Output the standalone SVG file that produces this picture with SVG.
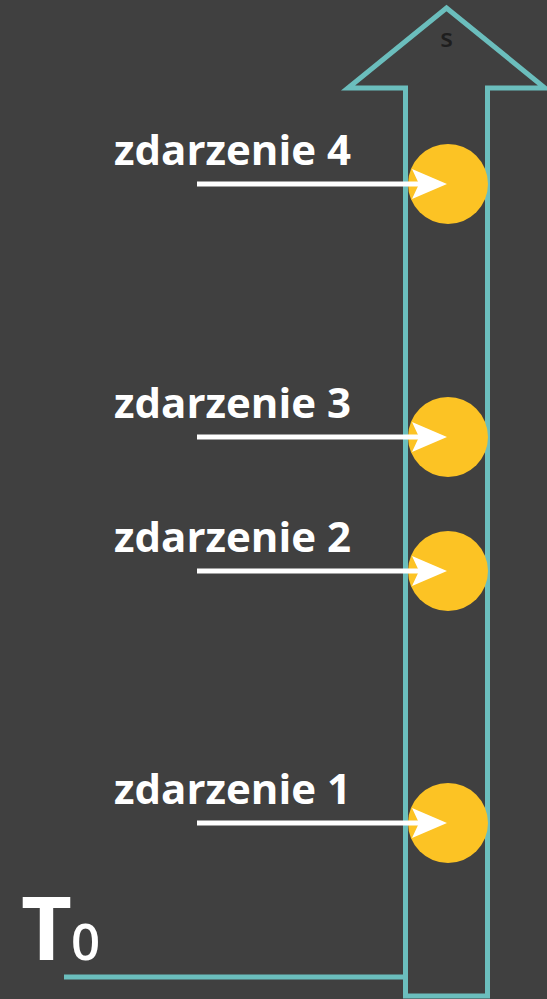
<svg xmlns="http://www.w3.org/2000/svg" width="547" height="999" viewBox="0 0 547 999">
<defs>
<style>
.lbl{font-family:"Open Sans","Liberation Sans",sans-serif;font-weight:bold;font-size:42px;fill:#ffffff}
.ev{fill:#FCC324}
.pt{stroke:#ffffff;stroke-width:5;fill:none}
.ah{fill:#ffffff}
.teal{stroke:#6BBEBD;stroke-width:5;fill:none}
</style>
</defs>
<rect width="547" height="999" fill="#404040"/>
<g id="timeline">
<path class="teal" d="M405.5,996 L405.5,88 L348,88 L446.5,8 L545,88 L487.5,88 L487.5,996 Z"/>
<text x="446.5" y="47" font-family="'Open Sans','Liberation Sans',sans-serif" font-weight="600" font-size="26" fill="#1e1e1e" text-anchor="middle">s</text>
</g>
<g id="t0">
<line class="teal" x1="64" y1="977" x2="405.5" y2="977"/>
<text x="21" y="960" font-family="'Open Sans','Liberation Sans',sans-serif" font-weight="bold" font-size="88" fill="#ffffff">T</text>
<text x="71" y="960" font-family="'Open Sans','Liberation Sans',sans-serif" font-weight="600" font-size="51" fill="#ffffff">0</text>
</g>
<g id="event4">
<circle class="ev" cx="448" cy="184" r="40"/>
<text class="lbl" x="114" y="165">zdarzenie 4</text>
</g>
<g id="event3">
<circle class="ev" cx="448" cy="437" r="40"/>
<text class="lbl" x="114" y="418">zdarzenie 3</text>
</g>
<g id="event2">
<circle class="ev" cx="448" cy="571" r="40"/>
<text class="lbl" x="114" y="552">zdarzenie 2</text>
</g>
<g id="event1">
<circle class="ev" cx="448" cy="823" r="40"/>
<text class="lbl" x="114" y="804">zdarzenie 1</text>
</g>
<g id="connectors">
<line class="pt" x1="197" y1="184" x2="422" y2="184"/>
<path class="ah" d="M447,184 L412,169 L419,184 L412,199 Z"/>
<line class="pt" x1="197" y1="437" x2="422" y2="437"/>
<path class="ah" d="M447,437 L412,422 L419,437 L412,452 Z"/>
<line class="pt" x1="197" y1="571" x2="422" y2="571"/>
<path class="ah" d="M447,571 L412,556 L419,571 L412,586 Z"/>
<line class="pt" x1="197" y1="823" x2="422" y2="823"/>
<path class="ah" d="M447,823 L412,808 L419,823 L412,838 Z"/>
</g>
</svg>
